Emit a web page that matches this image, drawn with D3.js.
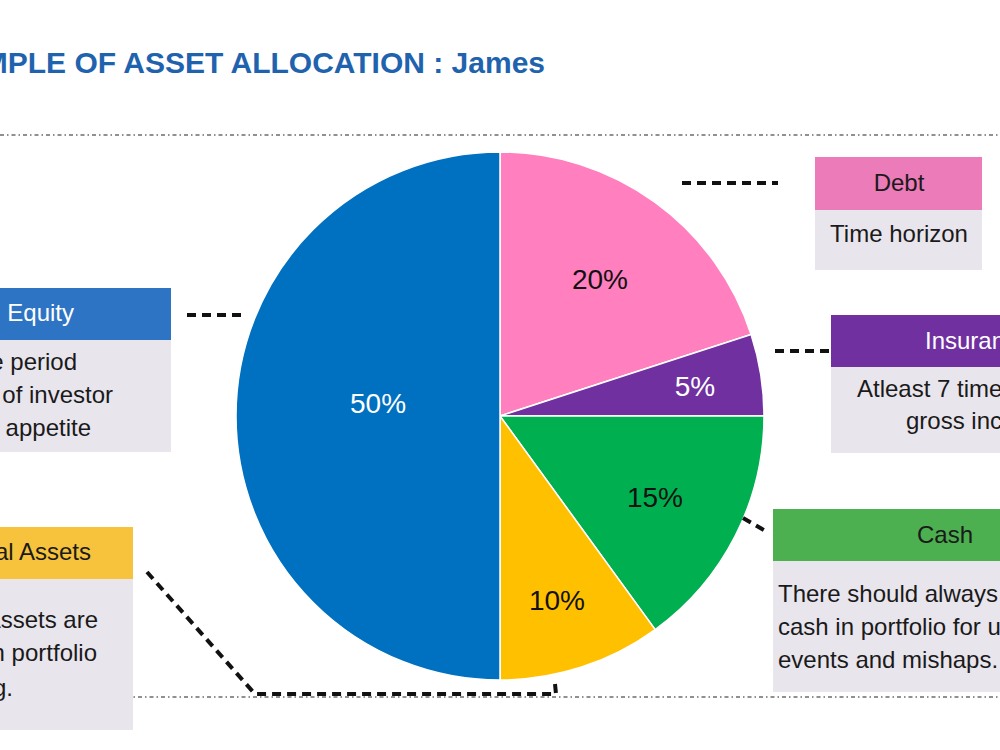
<!DOCTYPE html>
<html>
<head>
<meta charset="utf-8">
<script src="https://cdn.jsdelivr.net/npm/d3@7"></script>
<style>
  html, body { margin: 0; padding: 0; background: #fff; overflow: hidden; }
  svg { display: block; font-family: "Liberation Sans", Arial, sans-serif; }
</style>
</head>
<body>
<svg id="chart"></svg>
<script>
// 1) Data -----------------------------------------------------------
const categories = ['Debt', 'Insurance', 'Cash', 'Real Assets', 'Equity'];
const shares = [20, 5, 15, 10, 50];
const sliceColors = ['#FF7FBF', '#7030A0', '#00B050', '#FFC000', '#0070C0'];
const labelColors = ['#111', '#fff', '#111', '#111', '#fff'];

const headerColors = ['#EC7BB9', '#7030A0', '#4CAF50', '#F7C23C', '#2E74C4'];
const headerTextColors = ['#1a1a1a', '#fff', '#1a1a1a', '#1a1a1a', '#fff'];
const notes = [
  ['Time horizon'],
  ['Atleast 7 times of', 'gross income'],
  ['There should always be some', 'cash in portfolio for unexpected', 'events and mishaps.'],
  ['Real assets are', 'must in portfolio', 'for diversifying.'],
  ['Long time period', 'Age of investor', 'Risk appetite']
];

// 2) Setup ----------------------------------------------------------
const width = 1000;
const height = 750;
const svg = d3.select('#chart').attr('width', width).attr('height', height);

// slide divider lines (thin dash-dot)
[135, 697].forEach(y => {
  svg.append('line')
    .attr('x1', 0).attr('x2', width)
    .attr('y1', y).attr('y2', y)
    .attr('stroke', '#222')
    .attr('stroke-width', 1.2)
    .attr('stroke-dasharray', '4,3,1.5,3');
});

svg.append('text')
  .attr('x', 545).attr('y', 73)
  .attr('text-anchor', 'end')
  .attr('font-size', 30)
  .attr('font-weight', 'bold')
  .attr('fill', '#1F63AE')
  .text('EXAMPLE OF ASSET ALLOCATION : James');

// 3) Pie ------------------------------------------------------------
const cx = 500, cy = 416, radius = 264;
const pie = d3.pie().sort(null).value(d => d);
const arcs = pie(shares);
const arc = d3.arc().innerRadius(0).outerRadius(radius);

const g = svg.append('g').attr('transform', `translate(${cx},${cy})`);

g.selectAll('path')
  .data(arcs)
  .enter().append('path')
  .attr('d', arc)
  .attr('fill', (d, i) => sliceColors[i])
  .attr('stroke', '#fff')
  .attr('stroke-width', 1.5);

const labelPos = [[100, -137], [195, -30], [155, 81], [57, 184], [-122, -13]];
g.selectAll('text.pct')
  .data(arcs)
  .enter().append('text')
  .attr('class', 'pct')
  .attr('x', (d, i) => labelPos[i][0])
  .attr('y', (d, i) => labelPos[i][1])
  .attr('dy', '0.35em')
  .attr('text-anchor', 'middle')
  .attr('font-size', 28)
  .attr('fill', (d, i) => labelColors[i])
  .text(d => d.data + '%');

// 4) Boxes ----------------------------------------------------------
// order follows categories
const boxes = [
  { x: 815, w: 167, top: 157, head: 53, body: 60,
    hx: 899, hy: 183, ha: 'middle',
    lines: [[899, 234, 'middle']] },
  { x: 831, w: 260, top: 315, head: 52, body: 86,
    hx: 925, hy: 341, ha: 'start',
    lines: [[857, 389, 'start'], [906, 421, 'start']] },
  { x: 773, w: 300, top: 509, head: 52, body: 131,
    hx: 917, hy: 535, ha: 'start',
    lines: [[778, 594, 'start'], [778, 627, 'start'], [778, 660, 'start']] },
  { x: -140, w: 273, top: 527, head: 52, body: 151,
    hx: 91, hy: 552, ha: 'end',
    lines: [[98, 620, 'end'], [97, 653, 'end'], [13, 688, 'end']] },
  { x: -120, w: 291, top: 288, head: 52, body: 112,
    hx: 74, hy: 313, ha: 'end',
    lines: [[77, 362, 'end'], [113, 395, 'end'], [91, 428, 'end']] }
];

boxes.forEach((b, i) => {
  const bg = svg.append('g');
  bg.append('rect')
    .attr('x', b.x).attr('y', b.top + b.head)
    .attr('width', b.w).attr('height', b.body)
    .attr('fill', '#E9E5ED');
  bg.append('rect')
    .attr('x', b.x).attr('y', b.top)
    .attr('width', b.w).attr('height', b.head)
    .attr('fill', headerColors[i]);
  bg.append('text')
    .attr('x', b.hx).attr('y', b.hy)
    .attr('dy', '0.35em')
    .attr('text-anchor', b.ha)
    .attr('font-size', 24)
    .attr('fill', headerTextColors[i])
    .text(categories[i]);
  bg.selectAll('text.note')
    .data(notes[i])
    .enter().append('text')
    .attr('class', 'note')
    .attr('x', (d, j) => b.lines[j][0])
    .attr('y', (d, j) => b.lines[j][1])
    .attr('dy', '0.35em')
    .attr('text-anchor', (d, j) => b.lines[j][2])
    .attr('font-size', 24)
    .attr('fill', '#1a1a1a')
    .text(d => d);
});

// 5) Connectors -----------------------------------------------------
const connectors = [
  [[682, 183], [778, 183]],
  [[775, 351], [829, 351]],
  [[743, 518], [769, 533]],
  [[187, 315], [243, 315]],
  [[147, 572], [255, 694], [556, 694], [555, 684]]
];
const line = d3.line();
connectors.forEach(pts => {
  svg.append('path')
    .attr('d', line(pts))
    .attr('fill', 'none')
    .attr('stroke', '#111')
    .attr('stroke-width', 4)
    .attr('stroke-dasharray', '9,6');
});
</script>
</body>
</html>
